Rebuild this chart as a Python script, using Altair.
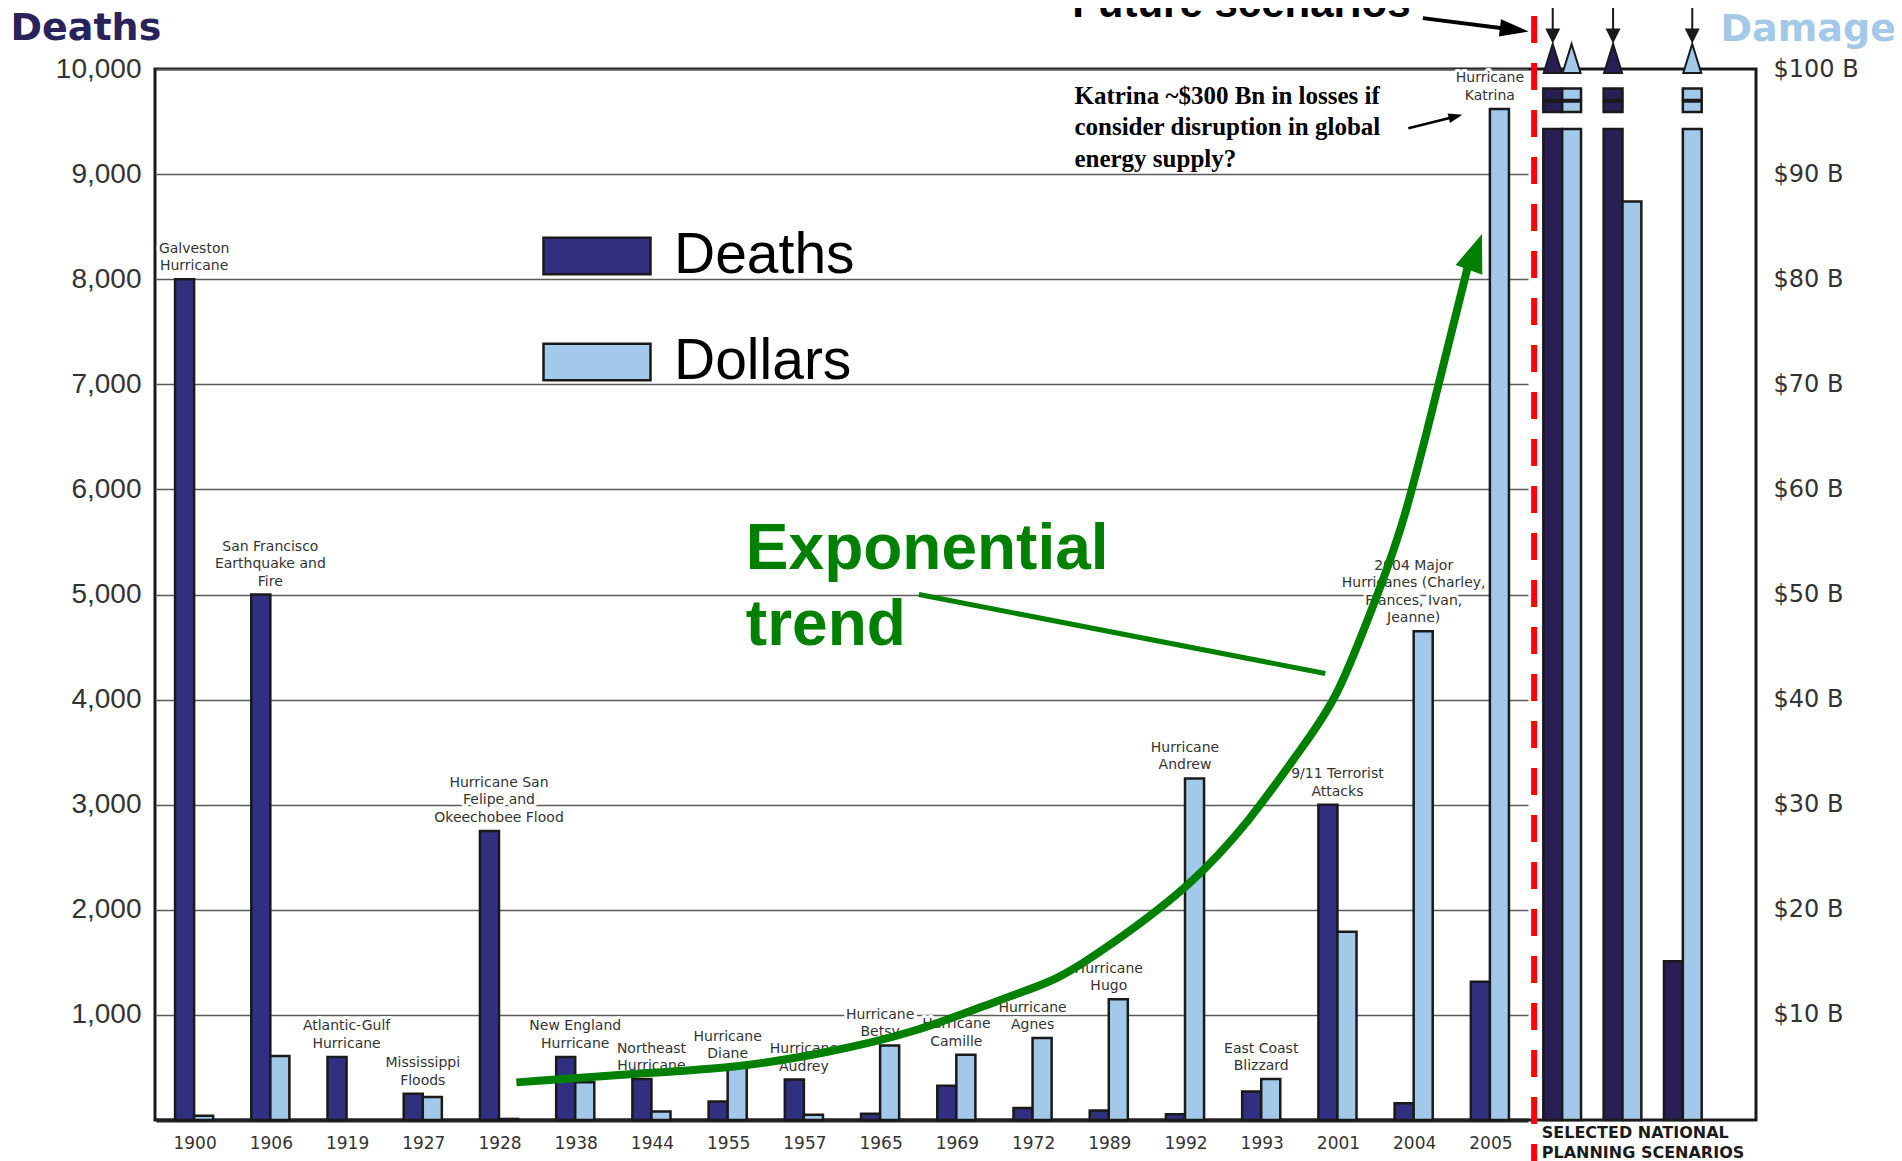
import altair as alt
import pandas as pd

# ---------------- data ----------------
years = ["1900", "1906", "1919", "1927", "1928", "1938", "1944", "1955", "1957",
         "1965", "1969", "1972", "1989", "1992", "1993", "2001", "2004", "2005"]
deaths = [8000, 5000, 600, 250, 2750, 600, 390, 175, 385,
          60, 325, 115, 90, 55, 270, 3000, 160, 1315]
damage_bn = [0.4, 6.1, 0.0, 2.2, 0.1, 3.6, 0.8, 5.0, 0.5,
             7.1, 6.2, 7.8, 11.5, 32.5, 3.9, 17.9, 46.5, 96.2]
events = [
    "Galveston\nHurricane",
    "San Francisco\nEarthquake and\nFire",
    "Atlantic-Gulf\nHurricane",
    "Mississippi\nFloods",
    "Hurricane San\nFelipe and\nOkeechobee Flood",
    "New England\nHurricane",
    "Northeast\nHurricane",
    "Hurricane\nDiane",
    "Hurricane\nAudrey",
    "Hurricane\nBetsy",
    "Hurricane\nCamille",
    "Hurricane\nAgnes",
    "Hurricane\nHugo",
    "Hurricane\nAndrew",
    "East Coast\nBlizzard",
    "9/11 Terrorist\nAttacks",
    "2004 Major\nHurricanes (Charley,\nFrances, Ivan,\nJeanne)",
    "Hurricane\nKatrina",
]
scenarios = ["Scenario 1", "Scenario 2", "Scenario 3"]
scenario_deaths = [None, None, 1510]        # None = beyond the top of the scale
scenario_damage_bn = [None, 87.4, None]

# exponential trend arrow (slot = category position, level = deaths-axis units)
trend_slot = [4.24, 5.74, 7.14, 8.28, 9.48, 10.65, 11.24, 11.67, 12.12, 13.07,
              13.87, 14.52, 15.00, 15.44, 15.87, 16.40, 16.72]
trend_level = [358, 439, 496, 635, 831, 1166, 1305, 1490, 1709, 2217,
               2852, 3522, 3995, 4827, 5612, 7194, 8118]

# ---------------- styling constants ----------------
DARK = "#312F80"
DARK2 = "#2A1F55"
LIGHT = "#A2C8EA"
EDGE = "#1a1a1a"
GREEN = "#008000"
CAP = 9430                     # height where off-scale bars are cut
BREAKS = [(9590, 9690), (9705, 9815)]
LINE_H = 17.5

# ---------------- tables ----------------
hist_rows = []
for i, yr in enumerate(years):
    hist_rows.append(dict(cat=yr, series="Deaths", shade="Deaths", value=deaths[i]))
    if damage_bn[i] > 0:
        hist_rows.append(dict(cat=yr, series="Dollars", shade="Dollars", value=damage_bn[i] * 100))
hist_df = pd.DataFrame(hist_rows)

scen_rows = []
for j, sc in enumerate(scenarios):
    d = scenario_deaths[j]
    m = scenario_damage_bn[j]
    scen_rows.append(dict(cat=sc, series="Deaths", shade="Deaths (scenario)",
                          value=CAP if d is None else d, off=d is None))
    scen_rows.append(dict(cat=sc, series="Dollars", shade="Dollars",
                          value=CAP if m is None else m * 100, off=m is None))
scen_df = pd.DataFrame(scen_rows)
off_df = scen_df[scen_df["off"]].copy()
off_df["tri"] = 10100

brk_rows = []
for _, r in off_df.iterrows():
    for lo, hi in BREAKS:
        brk_rows.append(dict(cat=r["cat"], series=r["series"], shade=r["shade"], lo=lo, hi=hi))
brk_df = pd.DataFrame(brk_rows)

arrow_df = off_df.groupby("cat", as_index=False).first()
arrow_df["s0"] = 10370
arrow_df["s1"] = 10800
arrow_df["h"] = 10314

lab_rows = []
for yr, ev, d, b in zip(years, events, deaths, damage_bn):
    lines = ev.split("\n")
    for i, ln in enumerate(lines):
        lab_rows.append(dict(cat=yr, line=ln, k=len(lines) - 1 - i, top=max(d, b * 100)))
lab_df = pd.DataFrame(lab_rows)

trend_df = pd.DataFrame({"slot": trend_slot, "level": trend_level})

# ---------------- scales ----------------
YS = alt.Scale(domain=[0, 10000], nice=False)
XH = alt.Scale(domain=years, range=[1, 1373], paddingInner=0, paddingOuter=0)
XS = alt.Scale(domain=scenarios, range=[1377, 1558], paddingInner=0, paddingOuter=0)
XOH = alt.Scale(domain=["Deaths", "Dollars"], paddingInner=0, paddingOuter=1)
XOS = alt.Scale(domain=["Deaths", "Dollars"], paddingInner=0, paddingOuter=0.6)
XQ = alt.Scale(domain=[-0.5, 20.5], nice=False, zero=False)
CS = alt.Scale(domain=["Deaths", "Dollars", "Deaths (scenario)"], range=[DARK, LIGHT, DARK2])

# ---------------- historic group ----------------
bars = alt.Chart(hist_df).mark_bar(stroke=EDGE, strokeWidth=2.5).encode(
    x=alt.X("cat:N", scale=XH, axis=alt.Axis(
        title=None, labelAngle=0, labelFont="DejaVu Sans", labelFontSize=17,
        labelColor="#333333", labelPadding=23, labelBaseline="middle", labelOffset=1,
        ticks=False, tickSize=0, domainColor="#222222", domainWidth=4, grid=False)),
    xOffset=alt.XOffset("series:N", scale=XOH),
    y=alt.Y("value:Q", scale=YS, axis=alt.Axis(
        values=list(range(0, 10001, 1000)),
        labelExpr="datum.value == 0 ? '' : format(datum.value, ',')",
        labelFont="Liberation Sans", labelFontSize=28, labelColor="#333333", labelPadding=14,
        ticks=False, tickSize=0, domain=False, grid=True, gridColor="#5a5a5a", gridWidth=1.5,
        title="Deaths", titleFont="DejaVu Sans", titleFontSize=38, titleFontWeight="bold",
        titleColor="#29235C", titleAngle=0, titleAlign="left", titleBaseline="alphabetic",
        titleX=-145, titleY=-30)),
    color=alt.Color("shade:N", scale=CS, legend=alt.Legend(
        orient="none", legendX=387, legendY=132, title=None, values=["Deaths", "Dollars"],
        symbolType="M-1,-0.34L1,-0.34L1,0.34L-1,0.34Z", symbolSize=11449,
        symbolStrokeColor=EDGE, symbolStrokeWidth=2.5, symbolOpacity=1,
        labelFont="Liberation Sans", labelFontSize=57, labelColor="black", labelOffset=22,
        labelLimit=400, rowPadding=23, padding=0)),
)

hist_layers = [bars]
for K in range(4):
    for halo in (True, False):
        style = dict(color="white", stroke="white", strokeWidth=6, strokeJoin="round") if halo \
            else dict(color="#333333")
        hist_layers.append(
            alt.Chart(lab_df).transform_filter(alt.datum.k == K).mark_text(
                font="DejaVu Sans", fontSize=14, baseline="bottom",
                dy=-6 - K * LINE_H, **style).encode(
                x=alt.X("cat:N", scale=XH, title=None),
                y=alt.Y("top:Q", scale=YS),
                text="line:N"))
hist_group = alt.layer(*hist_layers)

# ---------------- scenario group ----------------
xs = alt.X("cat:N", scale=XS, axis=None)
xos = alt.XOffset("series:N", scale=XOS)
ys = lambda f: alt.Y(f, type="quantitative", scale=YS, axis=None)
cs = alt.Color("shade:N", scale=CS)

s_bars = alt.Chart(scen_df).mark_bar(stroke=EDGE, strokeWidth=2.5).encode(
    x=xs, xOffset=xos, y=ys("value"), color=cs)
s_breaks = alt.Chart(brk_df).mark_bar(stroke=EDGE, strokeWidth=2.5).encode(
    x=xs, xOffset=xos, y=ys("lo"), y2="hi:Q", color=cs)
s_tris = alt.Chart(off_df).mark_point(
    shape="M0,-1L0.62,1L-0.62,1Z", size=841, filled=True, opacity=1,
    stroke=EDGE, strokeWidth=2).encode(x=xs, xOffset=xos, y=ys("tri"), color=cs)
s_shafts = alt.Chart(arrow_df).mark_rule(color=EDGE, strokeWidth=2).encode(
    x=xs, xOffset=xos, y=ys("s0"), y2="s1:Q")
s_heads = alt.Chart(arrow_df).mark_point(
    shape="M-1,-1L1,-1L0,1Z", size=225, filled=True, opacity=1, color=EDGE).encode(
    x=xs, xOffset=xos, y=ys("h"))
scen_group = alt.layer(s_bars, s_breaks, s_tris, s_shafts, s_heads)

# ---------------- annotation layers (slot scale) ----------------
xq = lambda f: alt.X(f, type="quantitative", scale=XQ, axis=None)
yq = lambda f: alt.Y(f, type="quantitative", scale=YS, axis=None)

curve = alt.Chart(trend_df).mark_line(
    color=GREEN, strokeWidth=8, interpolate="basis").encode(
    x=xq("slot"), y=yq("level"), order="slot:Q")

curve_head = alt.Chart(pd.DataFrame({"slot": [16.82], "level": [8259]})).mark_point(
    shape="M0,-1L0.75,1L-0.75,1Z", size=1444, angle=20, filled=True, opacity=1, color=GREEN
).encode(x=xq("slot"), y=yq("level"))

pointer = alt.Chart(pd.DataFrame({"slot": [9.52, 14.85], "level": [5000, 4249]})).mark_line(
    color=GREEN, strokeWidth=5).encode(x=xq("slot"), y=yq("level"))

expo = alt.Chart(pd.DataFrame({"slot": [7.25, 7.25], "level": [5427, 4700],
                               "t": ["Exponential", "trend"]})).mark_text(
    align="left", baseline="middle", font="Liberation Sans", fontWeight="bold",
    fontSize=64, color=GREEN).encode(x=xq("slot"), y=yq("level"), text="t:N")

katrina_note = alt.Chart(pd.DataFrame({
    "slot": [11.56, 11.56, 11.56], "level": [9746, 9446, 9145],
    "t": ["Katrina ~$300 Bn in losses if", "consider disruption in global", "energy supply?"]})
).mark_text(align="left", baseline="middle", font="Liberation Serif", fontWeight="bold",
            fontSize=25, color="black").encode(x=xq("slot"), y=yq("level"), text="t:N")

k_arrow = alt.Chart(pd.DataFrame({"slot": [15.94, 16.56], "level": [9436, 9548]})).mark_line(
    color="black", strokeWidth=2.5).encode(x=xq("slot"), y=yq("level"))
k_head = alt.Chart(pd.DataFrame({"slot": [16.56], "level": [9548]})).mark_point(
    shape="M0,-1L0.7,1L-0.7,1Z", size=196, angle=76, filled=True, opacity=1, color="black"
).encode(x=xq("slot"), y=yq("level"))

future_txt = alt.Chart(pd.DataFrame({"slot": [11.53], "level": [10492],
                                     "t": ["Future scenarios"]})).mark_text(
    align="left", baseline="alphabetic", font="Liberation Sans", fontWeight="bold",
    fontSize=42, color="black").encode(x=xq("slot"), y=yq("level"), text="t:N")

f_arrow = alt.Chart(pd.DataFrame({"slot": [16.13, 17.33], "level": [10484, 10374]})).mark_line(
    color="black", strokeWidth=4).encode(x=xq("slot"), y=yq("level"))
f_head = alt.Chart(pd.DataFrame({"slot": [17.33], "level": [10374]})).mark_point(
    shape="M0,-1L0.6,1L-0.6,1Z", size=841, angle=97, filled=True, opacity=1, color="black"
).encode(x=xq("slot"), y=yq("level"))

red_line = alt.Chart(pd.DataFrame({"slot": [17.59], "y0": [10505], "y1": [-700]})).mark_rule(
    color="#FF0000", strokeWidth=6, strokeDash=[27, 20]).encode(
    x=xq("slot"), y=yq("y0"), y2="y1:Q")

snps = alt.Chart(pd.DataFrame({"slot": [17.69, 17.69], "level": [-127, -312],
                               "t": ["SELECTED NATIONAL", "PLANNING SCENARIOS"]})).mark_text(
    align="left", baseline="middle", font="DejaVu Sans", fontWeight="bold",
    fontSize=16, color="#1a1a1a").encode(x=xq("slot"), y=yq("level"), text="t:N")

quant_group = alt.layer(curve, curve_head, pointer, expo, katrina_note, k_arrow, k_head,
                        future_txt, f_arrow, f_head, red_line, snps)

# ---------------- right ($) axis ----------------
right = alt.Chart(pd.DataFrame({"bn": damage_bn})).mark_point(opacity=0).encode(
    y=alt.Y("bn:Q", scale=alt.Scale(domain=[0, 100], nice=False), axis=alt.Axis(
        orient="right", values=list(range(0, 101, 10)),
        labelExpr="datum.value == 0 ? '' : '$' + datum.value + ' B'",
        labelFont="DejaVu Sans", labelFontSize=24, labelColor="#333333", labelPadding=17,
        ticks=False, tickSize=0, domain=False, grid=False,
        title="Damage", titleFont="DejaVu Sans", titleFontSize=38, titleFontWeight="bold",
        titleColor="#A3C8E8", titleAngle=0, titleAlign="left", titleBaseline="alphabetic",
        titleX=-36, titleY=-29)))

chart = alt.layer(hist_group, scen_group, quant_group, right).resolve_scale(
    x="independent", y="independent", xOffset="independent"
).properties(
    width=1601, height=1051,
    autosize=alt.AutoSizeParams(type="none"),
    padding={"left": 147, "top": 61, "right": 138, "bottom": 41},
    background="white",
).configure_view(stroke=EDGE, strokeWidth=3)

chart.save("out.html", embed_options={"renderer": "svg", "actions": False})
